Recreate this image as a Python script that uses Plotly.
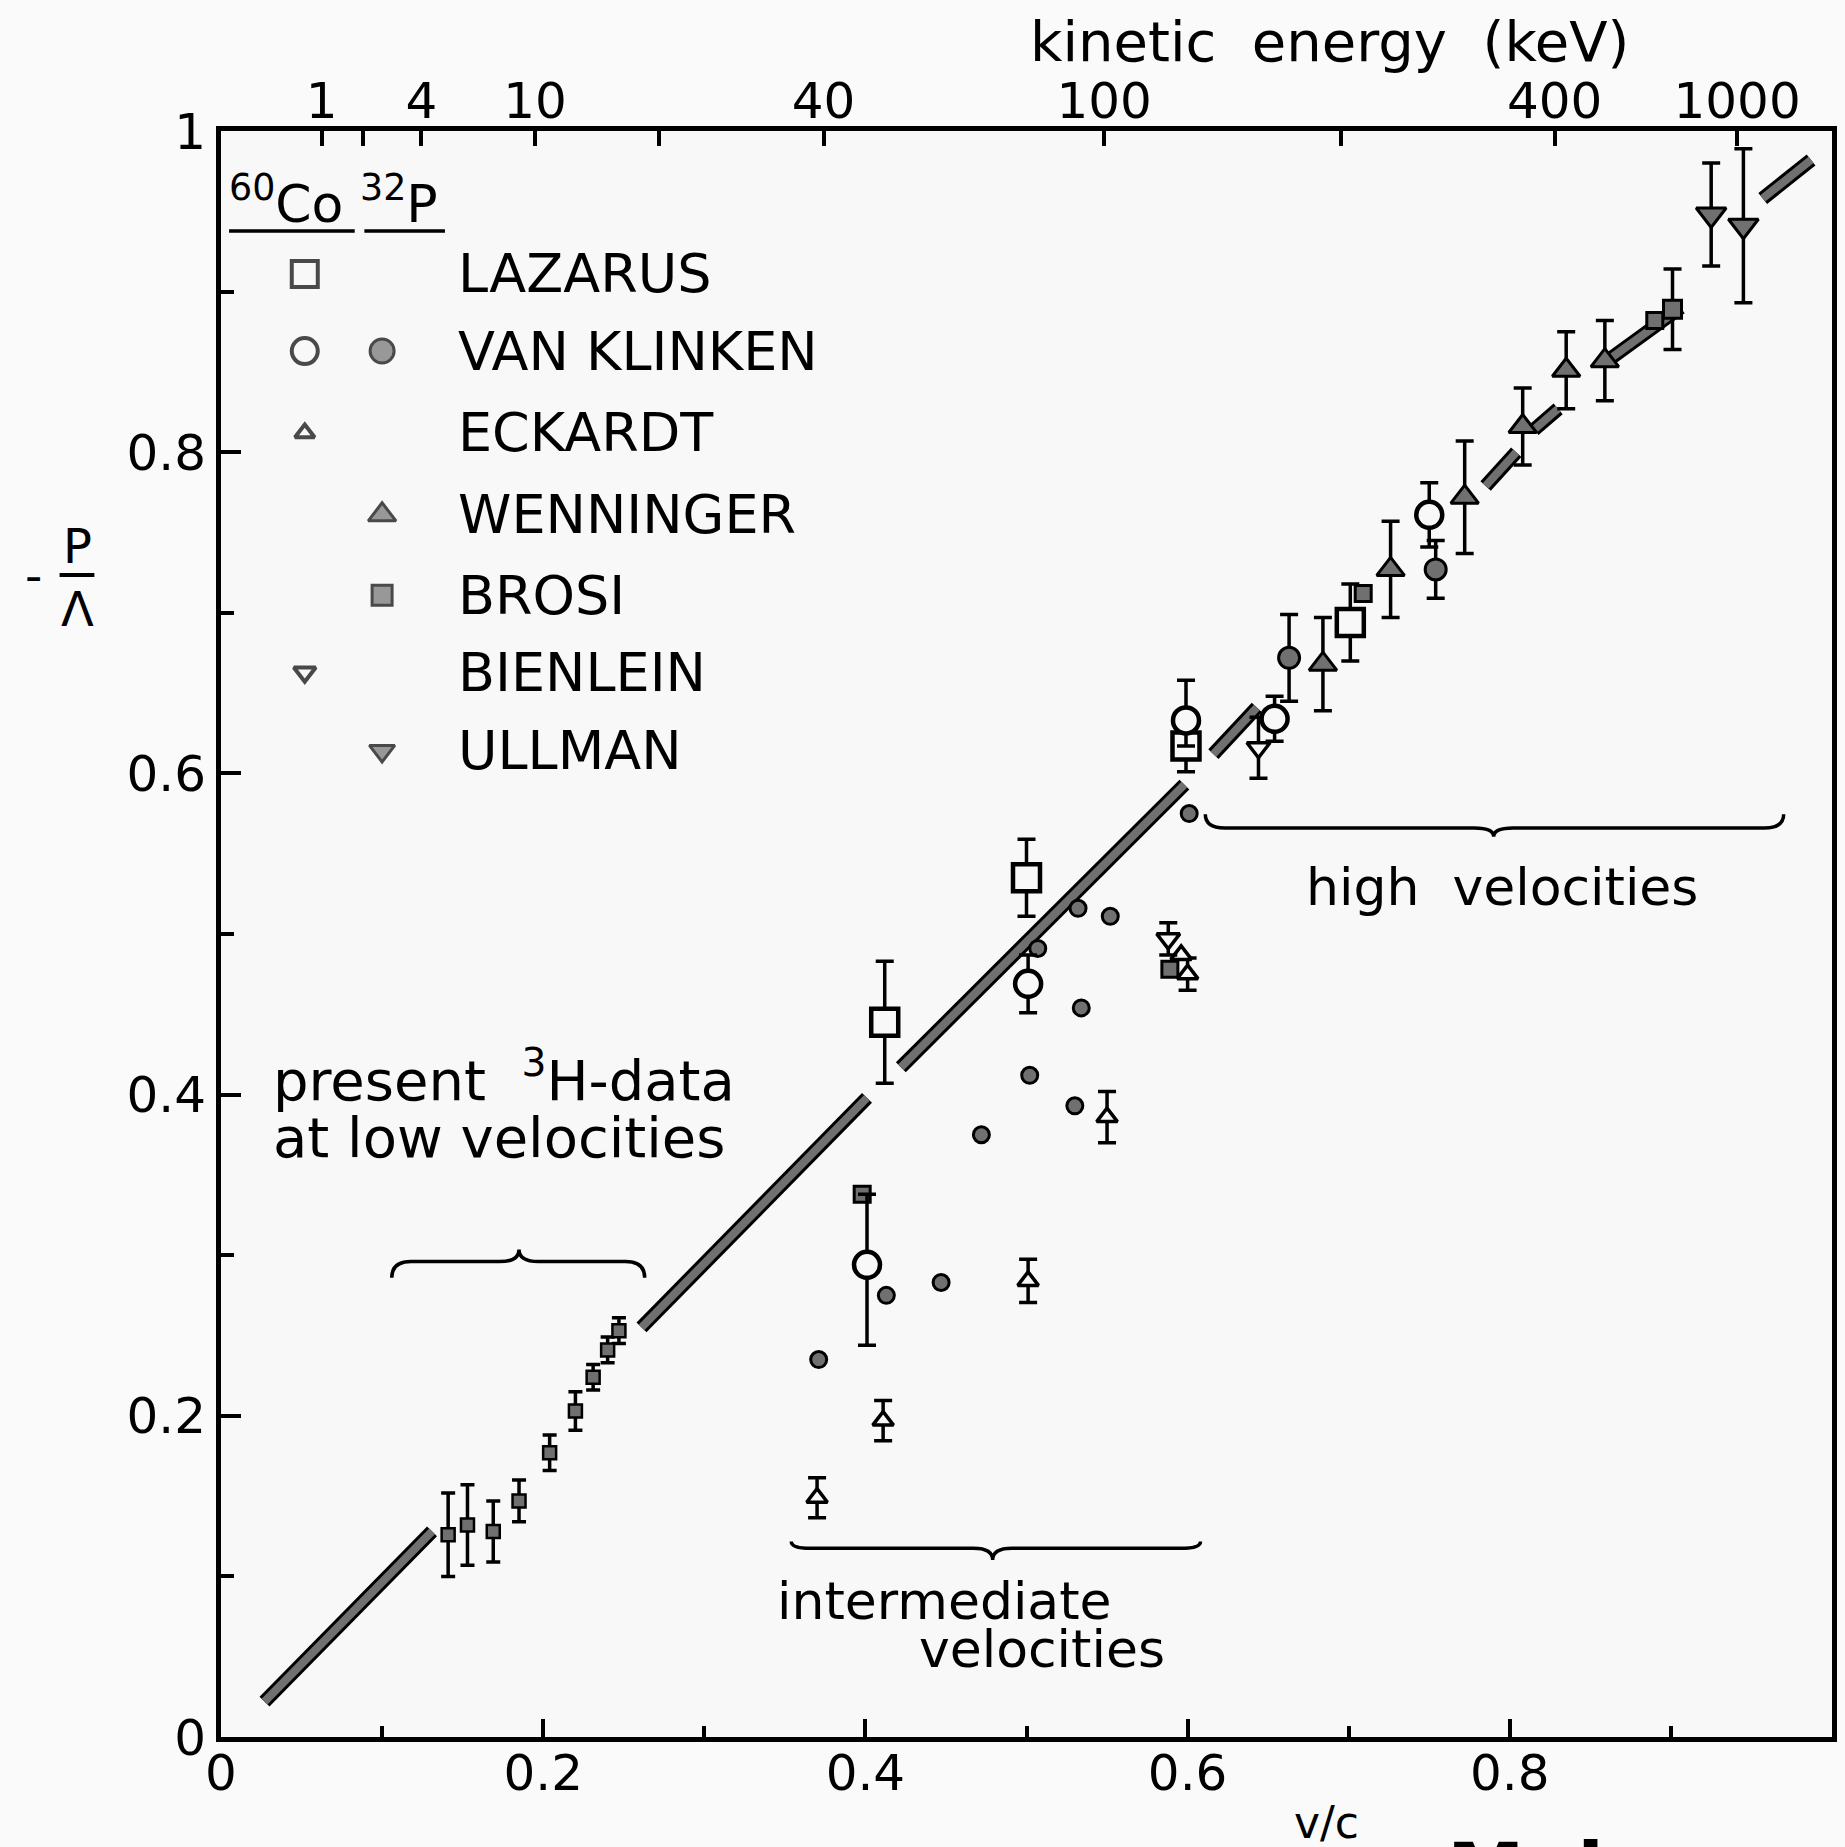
import numpy as np
import plotly.graph_objects as go

FONT = "DejaVu Sans"
GRAY = "#707070"
BG = "#f8f8f8"

# present 3H data (low velocities)
h3_v = [0.141, 0.153, 0.169, 0.185, 0.204, 0.220, 0.231, 0.240, 0.247]
h3_p = [0.126, 0.132, 0.128, 0.147, 0.177, 0.203, 0.224, 0.241, 0.253]
h3_err = [0.026, 0.025, 0.019, 0.013, 0.011, 0.012, 0.008, 0.008, 0.008]

# LAZARUS (60Co, open squares)
laz_v = [0.412, 0.500, 0.599, 0.701]
laz_p = [0.445, 0.535, 0.617, 0.694]
laz_err = [0.038, 0.024, 0.016, 0.024]

# VAN KLINKEN 60Co (open circles)
vkc_v = [0.401, 0.501, 0.599, 0.654, 0.750]
vkc_p = [0.294, 0.469, 0.633, 0.634, 0.761]
vkc_up = [0.044, 0.018, 0.025, 0.014, 0.020]
vkc_dn = [0.050, 0.018, 0.016, 0.014, 0.020]

# VAN KLINKEN 32P (gray circles), small ones without error bars
vkp_v = [0.371, 0.413, 0.447, 0.472, 0.502, 0.507, 0.530, 0.534, 0.532, 0.552, 0.601]
vkp_p = [0.235, 0.275, 0.283, 0.375, 0.412, 0.491, 0.393, 0.454, 0.516, 0.511, 0.575]
vkp2_v = [0.663, 0.754]
vkp2_p = [0.672, 0.727]
vkp2_err = [0.027, 0.018]

# ECKARDT (60Co, open triangles)
eck_v = [0.370, 0.411, 0.501, 0.550, 0.600]
eck_p = [0.149, 0.197, 0.284, 0.386, 0.475]
eck_err = [0.0125, 0.0125, 0.0135, 0.016, 0.010]
eck2_v = [0.596]
eck2_p = [0.487]

# WENNINGER (32P, gray triangles)
wen_v = [0.684, 0.726, 0.772, 0.808, 0.835, 0.859]
wen_p = [0.668, 0.727, 0.772, 0.816, 0.851, 0.857]
wen_err = [0.029, 0.030, 0.035, 0.024, 0.024, 0.025]

# BROSI (32P, gray squares)
bro_v = [0.398, 0.589, 0.709, 0.890]
bro_p = [0.338, 0.478, 0.712, 0.882]
bro2_v = [0.901]
bro2_p = [0.889]
bro2_err = [0.025]

# BIENLEIN (60Co, open down triangles)
bie_v = [0.588, 0.644]
bie_p = [0.497, 0.616]
bie_err = [0.010, 0.019]

# ULLMAN (32P, gray down triangles)
ull_v = [0.925, 0.945]
ull_p = [0.948, 0.941]
ull_err = [0.032, 0.048]

# band of -P/A = v/c, drawn in pieces between the points
band_v0 = [0.027, 0.261, 0.422, 0.616, 0.785, 0.815, 0.862, 0.957]
band_p0 = [0.022, 0.255, 0.417, 0.612, 0.779, 0.814, 0.858, 0.958]
band_v1 = [0.131, 0.401, 0.598, 0.643, 0.804, 0.830, 0.906, 0.987]
band_p1 = [0.128, 0.398, 0.593, 0.641, 0.800, 0.827, 0.890, 0.982]

# kinetic energy axis (keV)
ke_ticks = [1, 2, 4, 10, 20, 40, 100, 200, 400, 1000]
ke_labels = ["1", "", "4", "10", "", "40", "100", "", "400", "1000"]

legend_names = ["LAZARUS", "VAN KLINKEN", "ECKARDT", "WENNINGER", "BROSI", "BIENLEIN", "ULLMAN"]


def beta(t_kev):
    g = 1 + np.asarray(t_kev, dtype=float) / 511.0
    return np.sqrt(1 - 1 / g ** 2)


def pts(x, y, symbol, size, fill, lw=4, err=None, errm=None, cap=9):
    tr = go.Scatter(x=x, y=y, mode="markers", showlegend=False, hoverinfo="skip",
                    marker=dict(symbol=symbol, size=size, color=fill,
                                line=dict(color="black", width=lw)))
    if err is not None:
        tr.error_y = dict(type="data", array=err, arrayminus=errm if errm else err,
                          color="black", thickness=3.5, width=cap)
    return tr


def brace(x0, x1, xm, y_flat, y_end, y_tip, d=0.012):
    return (f"M {x0},{y_end} Q {x0},{y_flat} {x0 + d},{y_flat} "
            f"L {xm - d},{y_flat} Q {xm},{y_flat} {xm},{y_tip} "
            f"Q {xm},{y_flat} {xm + d},{y_flat} L {x1 - d},{y_flat} "
            f"Q {x1},{y_flat} {x1},{y_end}")


fig = go.Figure()

# band segments (black outline + gray core)
bx, by = [], []
for a, b, c, d in zip(band_v0, band_p0, band_v1, band_p1):
    bx += [a, c, None]
    by += [b, d, None]
fig.add_trace(go.Scatter(x=bx, y=by, mode="lines", line=dict(color="black", width=14),
                         showlegend=False, hoverinfo="skip"))
fig.add_trace(go.Scatter(x=bx, y=by, mode="lines", line=dict(color=GRAY, width=8),
                         showlegend=False, hoverinfo="skip"))

fig.add_trace(pts(h3_v, h3_p, "square", 13, GRAY, lw=2.5, err=h3_err, cap=7))
fig.add_trace(pts(vkp_v, vkp_p, "circle", 16, GRAY, lw=3))
fig.add_trace(pts(vkp2_v, vkp2_p, "circle", 21, GRAY, lw=3, err=vkp2_err))
fig.add_trace(pts(bro_v, bro_p, "square", 16, GRAY, lw=3))
fig.add_trace(pts(bro2_v, bro2_p, "square", 18, GRAY, lw=3, err=bro2_err))
fig.add_trace(pts(wen_v, wen_p, "triangle-up", 24, GRAY, lw=3, err=wen_err))
fig.add_trace(pts(ull_v, ull_p, "triangle-down", 26, GRAY, lw=3, err=ull_err))
fig.add_trace(pts(eck_v, eck_p, "triangle-up", 18, BG, lw=3.5, err=eck_err))
fig.add_trace(pts(eck2_v, eck2_p, "triangle-up", 18, BG, lw=3.5))
fig.add_trace(pts(bie_v, bie_p, "triangle-down", 20, BG, lw=3.5, err=bie_err))
fig.add_trace(pts(laz_v, laz_p, "square", 27, BG, lw=4.5, err=laz_err))
fig.add_trace(pts(vkc_v, vkc_p, "circle", 26, BG, lw=4.5, err=vkc_up, errm=vkc_dn))

# legend key drawn inside the frame
col1, col2, col_txt = 0.052, 0.100, 0.146
rows = [0.911, 0.863, 0.812, 0.761, 0.711, 0.663, 0.614]
fig.add_trace(pts([col1, col1, col1, col1], [rows[0], rows[1], rows[2], rows[5]],
                  ["square", "circle", "triangle-up", "triangle-down"], [26, 26, 17, 19], BG, lw=4))
fig.add_trace(pts([col2, col2, col2, col2], [rows[1], rows[3], rows[4], rows[6]],
                  ["circle", "triangle-up", "square", "triangle-down"], [24, 24, 20, 22], GRAY, lw=3))

# invisible trace so the top axis is drawn
fig.add_trace(go.Scatter(x=[0.5], y=[0.5], xaxis="x2", mode="markers", opacity=0,
                         showlegend=False, hoverinfo="skip"))

ann = []
for name, r in zip(legend_names, rows):
    ann.append(dict(x=col_txt, y=r, text=name, xanchor="left", font=dict(size=54)))

ann += [
    dict(x=0.004, y=0.957, text="<sup>60</sup>Co", xanchor="left", font=dict(size=52)),
    dict(x=0.085, y=0.957, text="<sup>32</sup>P", xanchor="left", font=dict(size=52)),
    dict(x=0.031, y=0.411, text="present\u00a0 <sup>3</sup>H-data",
         xanchor="left", font=dict(size=56)),
    dict(x=0.031, y=0.3736, text="at low velocities",
         xanchor="left", font=dict(size=56)),
    dict(x=0.795, y=0.529, text="high\u00a0 velocities", font=dict(size=52)),
    dict(x=0.344, y=0.0845, text="intermediate", xanchor="left", font=dict(size=52)),
    dict(x=0.432, y=0.0545, text="velocities", xanchor="left", font=dict(size=52)),
    dict(x=0.688, y=1.056, xref="paper", yref="paper", text="kinetic\u00a0 energy\u00a0 (keV)",
         font=dict(size=56)),
    dict(x=0.686, y=-0.053, xref="paper", yref="paper", text="v/c", font=dict(size=44)),
    dict(x=-0.1163, y=0.7235, xref="paper", yref="paper", text="-", font=dict(size=48)),
    dict(x=-0.0891, y=0.7415, xref="paper", yref="paper", text="P", font=dict(size=48)),
    dict(x=-0.0891, y=0.7025, xref="paper", yref="paper", text="Λ", font=dict(size=48)),
    dict(x=0.760, y=-0.055, xref="paper", yref="paper", text="<b>Malware k</b>",
         xanchor="left", yanchor="top", font=dict(size=78)),
]
for a in ann:
    a.setdefault("xref", "x")
    a.setdefault("yref", "y")
    a.setdefault("xanchor", "center")
    a.setdefault("yanchor", "middle")
    a.setdefault("showarrow", False)
    a["font"].setdefault("color", "black")
    a["font"].setdefault("family", FONT)

shapes = [
    dict(type="line", xref="x", yref="y", x0=0.005, x1=0.083, y0=0.9377, y1=0.9377,
         line=dict(color="black", width=3.5)),
    dict(type="line", xref="x", yref="y", x0=0.089, x1=0.139, y0=0.9377, y1=0.9377,
         line=dict(color="black", width=3.5)),
    dict(type="line", xref="paper", yref="paper", x0=-0.1002, x1=-0.0786, y0=0.7235, y1=0.7235,
         line=dict(color="black", width=4)),
    dict(type="path", xref="x", yref="y", path=brace(0.106, 0.263, 0.185, 0.296, 0.286, 0.3035),
         line=dict(color="black", width=3.5)),
    dict(type="path", xref="x", yref="y", path=brace(0.354, 0.608, 0.479, 0.1175, 0.1218, 0.1102),
         line=dict(color="black", width=3.5)),
    dict(type="path", xref="x", yref="y", path=brace(0.611, 0.970, 0.790, 0.566, 0.5745, 0.5606),
         line=dict(color="black", width=3.5)),
]

tickfont = dict(family=FONT, size=50, color="black")
fig.update_layout(
    width=1845, height=1847,
    margin=dict(l=221, r=8, t=131, b=110),
    paper_bgcolor="#fafafa", plot_bgcolor=BG,
    showlegend=False,
    annotations=ann, shapes=shapes,
    xaxis=dict(range=[0, 1], tickvals=[0, 0.2, 0.4, 0.6, 0.8, 1],
               ticktext=["0", "0.2", "0.4", "0.6", "0.8", "1"],
               ticks="inside", ticklen=18, tickwidth=4, tickcolor="black",
               minor=dict(dtick=0.1, ticks="inside", ticklen=11, tickwidth=4, tickcolor="black"),
               showline=True, linewidth=5, linecolor="black", showgrid=False, zeroline=False,
               tickfont=tickfont, ticklabelstandoff=-12),
    xaxis2=dict(range=[0, 1], overlaying="x", side="top", tickvals=beta(ke_ticks),
                ticktext=ke_labels, ticks="inside", ticklen=15, tickwidth=4, tickcolor="black",
                showline=True, linewidth=5, linecolor="black", showgrid=False, zeroline=False,
                tickfont=tickfont, ticklabelstandoff=-12),
    yaxis=dict(range=[0, 1], tickvals=[0, 0.2, 0.4, 0.6, 0.8, 1],
               ticktext=["0", "0.2", "0.4", "0.6", "0.8", "1"],
               ticks="inside", ticklen=20, tickwidth=4, tickcolor="black",
               minor=dict(dtick=0.1, ticks="inside", ticklen=13, tickwidth=4, tickcolor="black"),
               showline=True, mirror=True, linewidth=5, linecolor="black",
               showgrid=False, zeroline=False, tickfont=tickfont, ticklabelstandoff=0),
)

fig.write_html("out.html", config={"displayModeBar": False},
               post_script="document.body.style.margin='0';document.body.style.overflow='hidden';")
